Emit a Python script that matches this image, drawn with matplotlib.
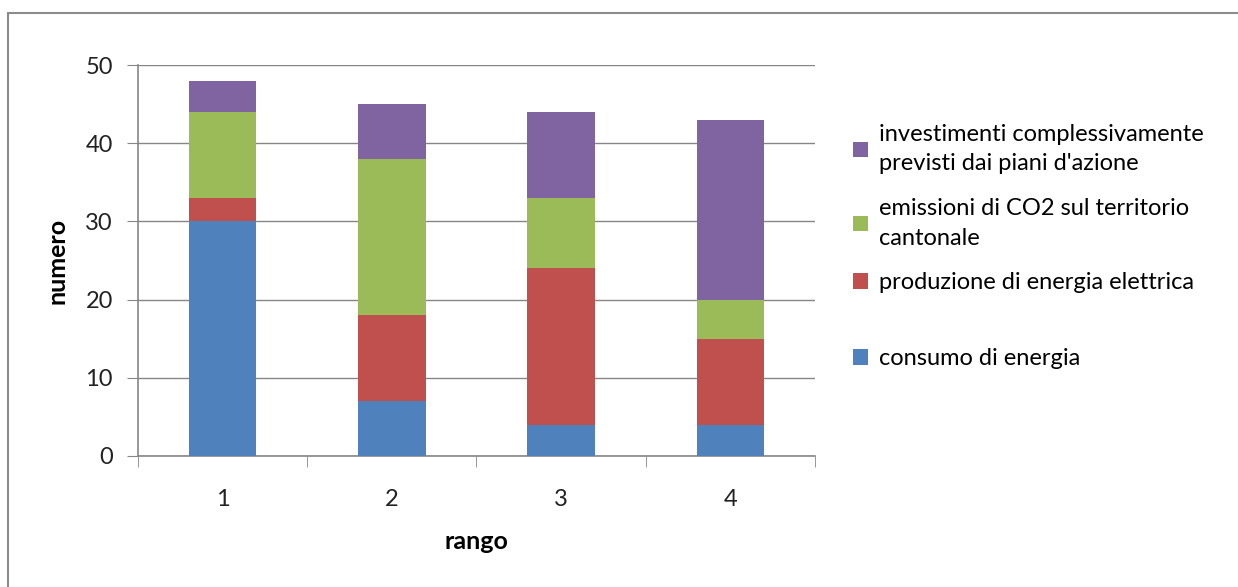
import matplotlib.pyplot as plt
from matplotlib.patches import Rectangle

plt.rcParams['font.family'] = ['Lato', 'DejaVu Sans']

categorie = ['1', '2', '3', '4']
consumo = [30, 7, 4, 4]
produzione = [3, 11, 20, 11]
emissioni = [11, 20, 9, 5]
investimenti = [4, 7, 11, 23]

serie = [
    ('consumo di energia', consumo, '#4F81BD'),
    ('produzione di energia elettrica', produzione, '#C0504D'),
    ('emissioni di CO2 sul territorio\ncantonale', emissioni, '#9BBB59'),
    ('investimenti complessivamente\nprevisti dai piani d\'azione', investimenti, '#8064A2'),
]

fig = plt.figure(figsize=(12.38, 5.87), dpi=100)
ax = fig.add_axes([138/1238, 1 - 456/587, (815-138)/1238, (456-65)/587])

# cornice grigia esterna
fig.patches.append(Rectangle((8/1238, -0.1), 1.2, 1 - 13/587 + 0.1,
                             transform=fig.transFigure, fill=False,
                             edgecolor='#8c8c8c', linewidth=1.5))

x = list(range(len(categorie)))
base = [0] * len(categorie)
handles = []
for nome, valori, colore in serie:
    b = ax.bar(x, valori, 0.4, bottom=base, color=colore, label=nome, zorder=3)
    handles.append(b)
    base = [a + v for a, v in zip(base, valori)]

ax.set_xlim(-0.5, 3.5)
ax.set_ylim(0, 50)
ax.set_yticks([0, 10, 20, 30, 40, 50])
ax.set_xticks(x)
ax.set_xticklabels(categorie)
ax.set_xticks([-0.5, 0.5, 1.5, 2.5, 3.5], minor=True)
ax.tick_params(axis='x', which='major', length=0, pad=24, labelsize=17, colors='#222222')
ax.tick_params(axis='x', which='minor', length=8, color='#868686', direction='out')
ax.tick_params(axis='y', length=8, color='#868686', labelsize=17, pad=10, labelcolor='#222222')
ax.grid(axis='y', color='#868686', linewidth=1, zorder=0)
for s in ['top', 'right']:
    ax.spines[s].set_visible(False)
for s in ['left', 'bottom']:
    ax.spines[s].set_color('#868686')
    ax.spines[s].set_linewidth(1.2)

ax.set_xlabel('rango', fontsize=18, fontweight='bold', labelpad=14)
ax.set_ylabel('numero', fontsize=18, fontweight='bold', labelpad=12)

opts = dict(loc='upper left', frameon=False, fontsize=17, handlelength=0.65,
            handleheight=0.65, handletextpad=0.45, borderaxespad=0, borderpad=0)
top = handles[:0:-1]
leg1 = fig.legend(top, [h.get_label() for h in top],
                  bbox_to_anchor=(853/1238, 1 - 124/587), labelspacing=1.0, **opts)
for t in leg1.get_texts():
    t.set_linespacing(1.5)
leg2 = fig.legend([handles[0]], [handles[0].get_label()],
                  bbox_to_anchor=(853/1238, 1 - 348/587), **opts)

fig.savefig('out.png', dpi=100)
